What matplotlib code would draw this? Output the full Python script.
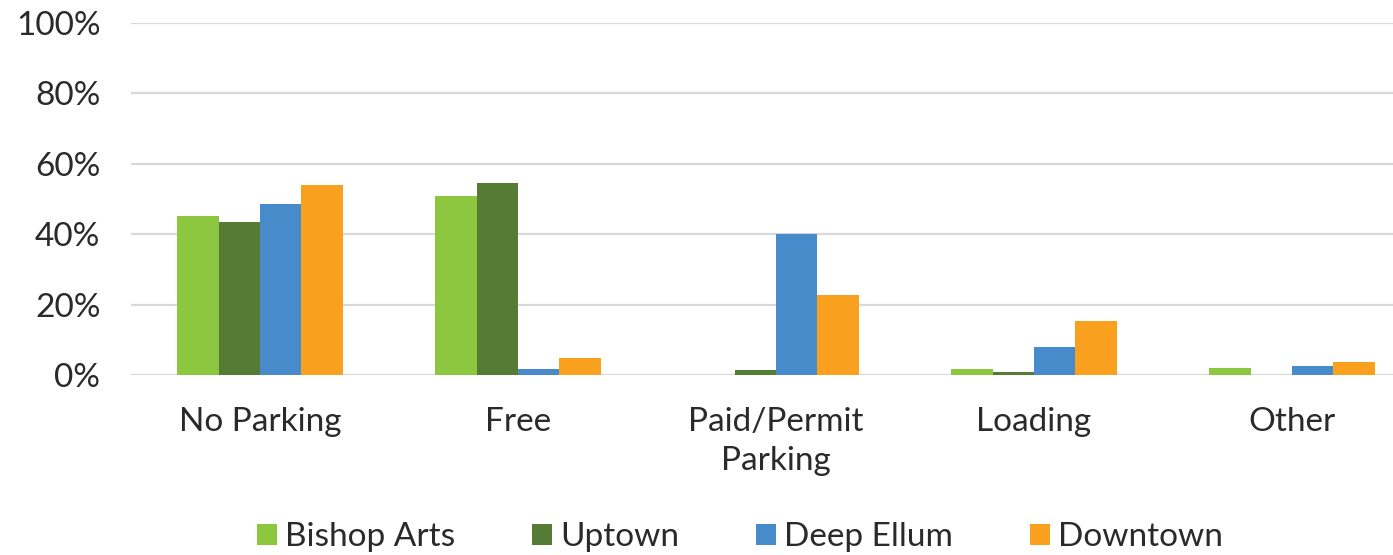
import matplotlib
matplotlib.use("Agg")
import matplotlib.pyplot as plt
import numpy as np

categories = ["No Parking", "Free", "Paid/Permit\nParking", "Loading", "Other"]
series_names = ["Bishop Arts", "Uptown", "Deep Ellum", "Downtown"]
bishop_arts = [45.2, 50.9, 0.0, 1.8, 2.1]
uptown = [43.4, 54.5, 1.5, 0.8, 0.0]
deep_ellum = [48.5, 1.6, 40.1, 7.9, 2.5]
downtown = [53.9, 4.7, 22.8, 15.4, 3.8]
yticks = [0, 20, 40, 60, 80, 100]
ytick_labels = ["0%", "20%", "40%", "60%", "80%", "100%"]

colors = ["#8dc63f", "#567b35", "#478bcb", "#f9a01f"]
values = [bishop_arts, uptown, deep_ellum, downtown]
txt = "#2a2a2a"

plt.rcParams['font.family'] = ['Lato', 'DejaVu Sans']

fig = plt.figure(figsize=(13.93, 5.55), dpi=100)
ax = fig.add_axes([131/1393, 1-375/555, 1290/1393, 352/555])

x = np.arange(len(categories))
w = 0.16
for i, (vals, c, name) in enumerate(zip(values, colors, series_names)):
    ax.bar(x + (i - 1.5) * w, vals, width=w, color=c, label=name, zorder=3)

ax.set_xlim(-0.5, 4.5)
ax.set_ylim(0, 100)
ax.set_yticks(yticks)
ax.set_yticklabels(ytick_labels, fontsize=24, color=txt)
ax.set_xticks(x)
ax.set_xticklabels(categories, fontsize=24, color=txt, linespacing=1.37)
ax.tick_params(axis='both', length=0)
ax.tick_params(axis='y', pad=22)
ax.tick_params(axis='x', pad=23)
ax.grid(axis='y', color="#d9d9d9", linewidth=1.6, zorder=0)
for s in ax.spines.values():
    s.set_visible(False)

handles, labels = ax.get_legend_handles_labels()
fig.legend(handles, labels, loc='center', bbox_to_anchor=(740/1393, 1-537/555),
           ncol=4, frameon=False, fontsize=24, handlelength=0.6, handleheight=0.6,
           handletextpad=0.25, columnspacing=2.3, labelcolor=txt,
           borderpad=0, borderaxespad=0)

fig.savefig("out.png", dpi=100)
